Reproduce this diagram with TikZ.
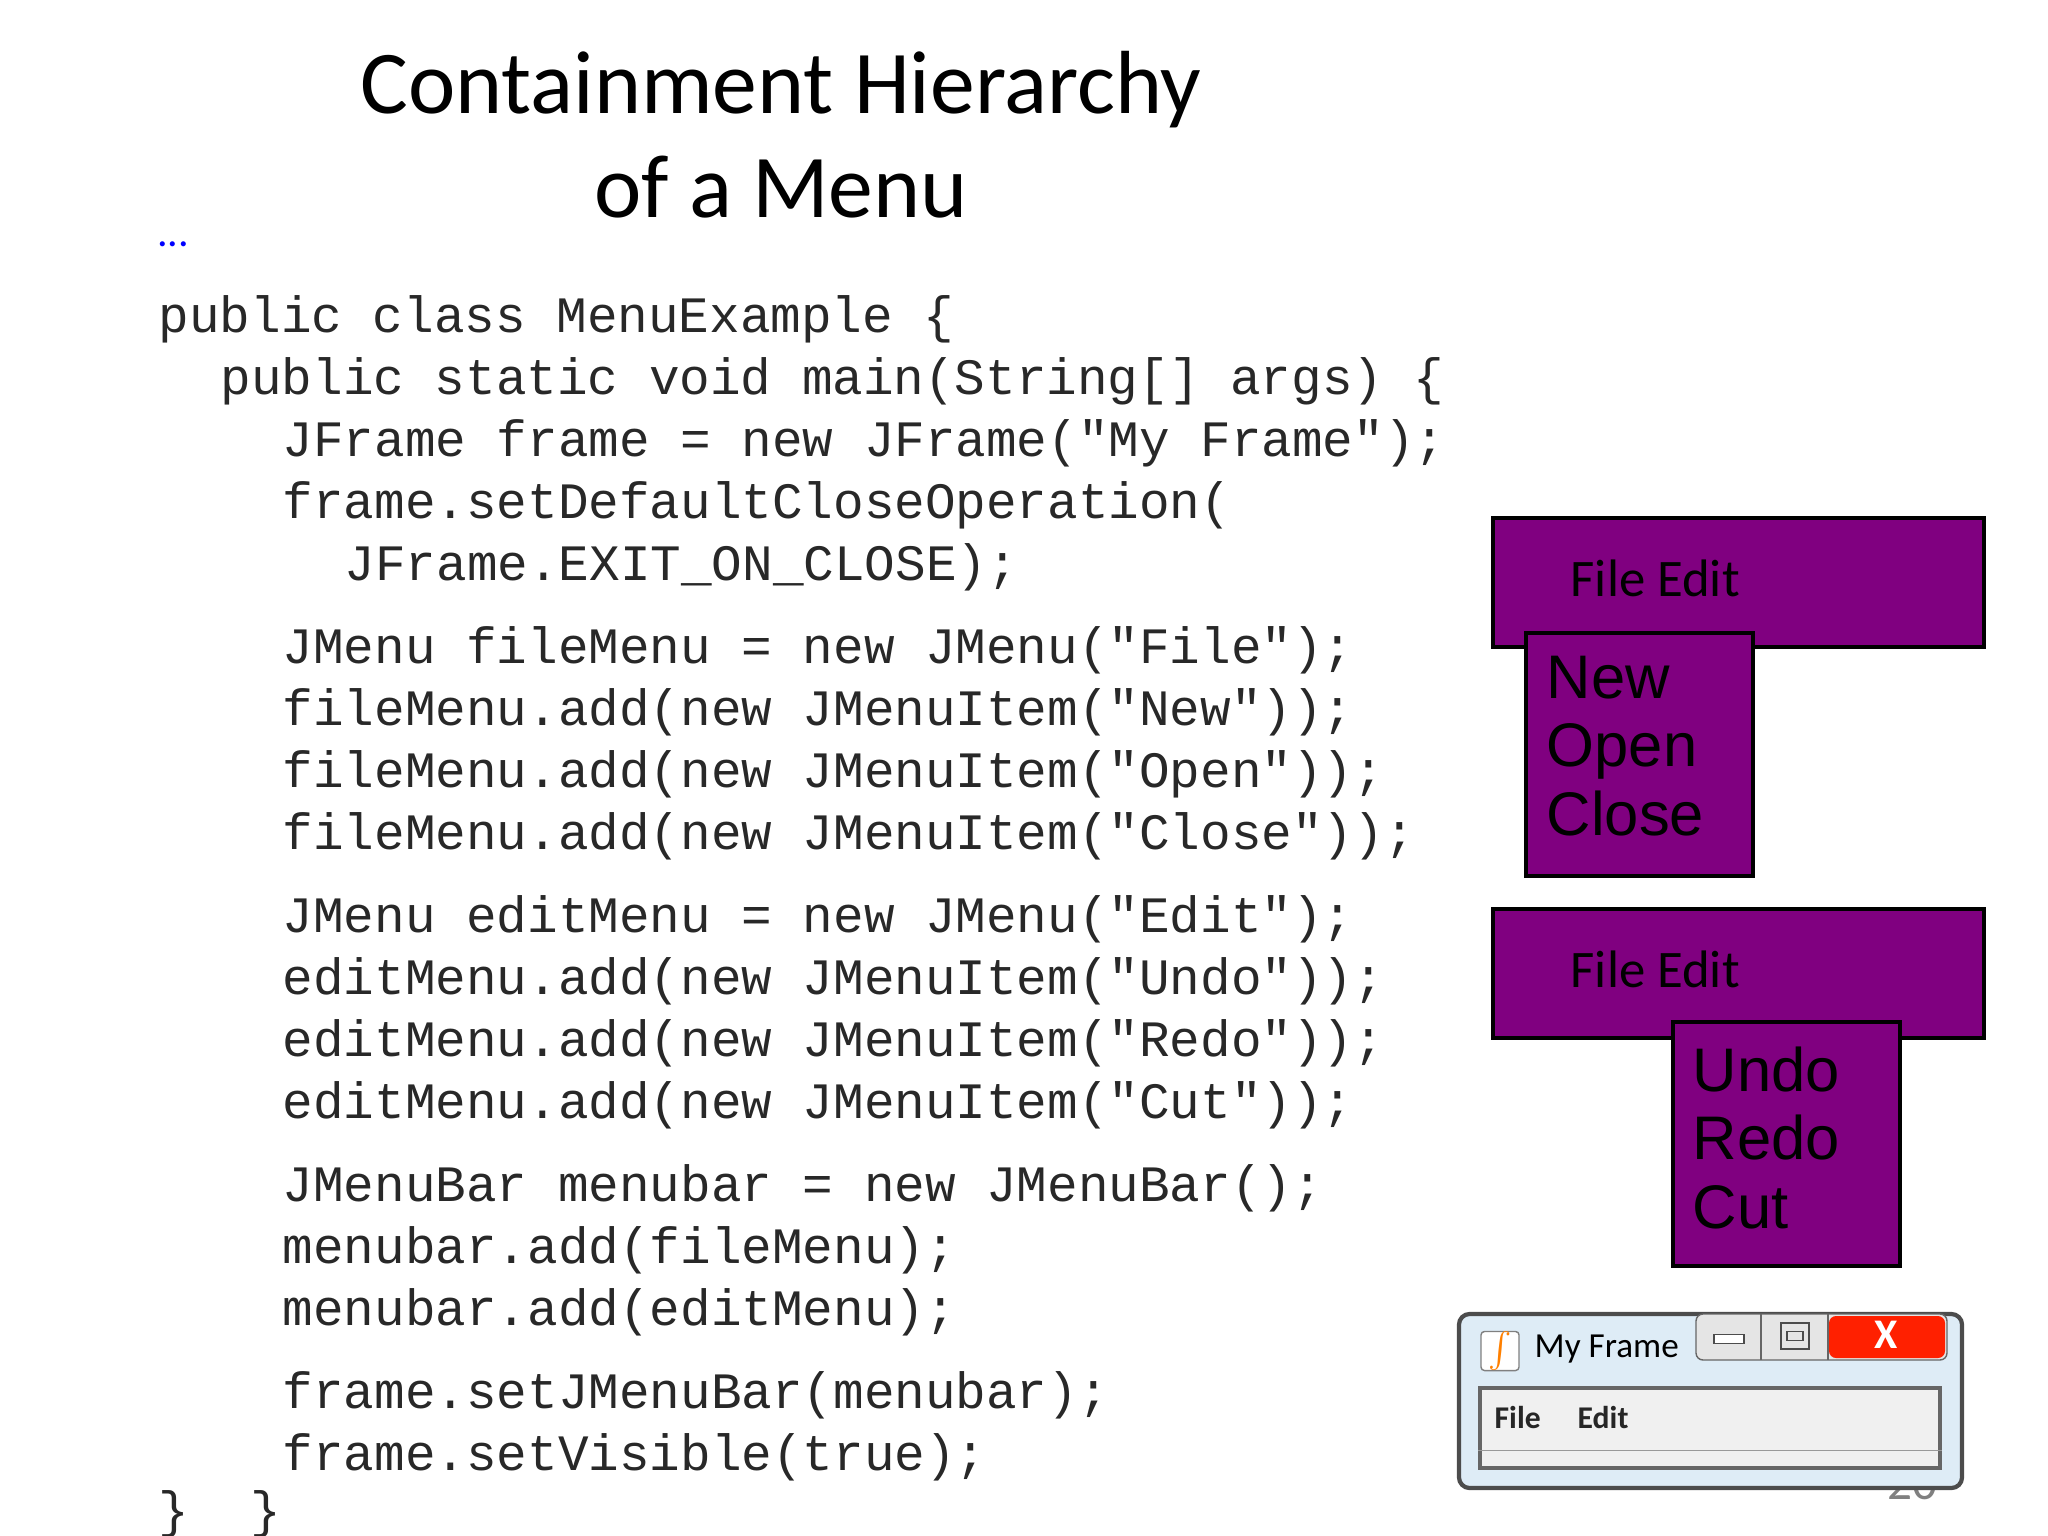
\documentclass[tikz,border=0pt]{standalone}
\usepackage{fontspec}
\usetikzlibrary{calc}
\setmainfont{Carlito}
\newfontfamily\codefont{Liberation Mono}
\newfontfamily\arialfont{Liberation Sans}
\definecolor{menupurple}{RGB}{128,0,128}
\definecolor{codegray}{RGB}{40,40,40}
\definecolor{winblue}{RGB}{222,236,246}
\definecolor{panelgray}{RGB}{240,240,240}
\begin{document}
\begin{tikzpicture}[x=0.01cm,y=-0.01cm,
  codeline/.style={anchor=west,inner sep=0,font=\codefont\fontsize{14.5}{16}\selectfont,text=codegray},
  menubox/.style={draw=black,line width=1pt,fill=menupurple,anchor=north west,inner sep=0},
  menutop/.style={anchor=west,inner sep=0,font=\fontsize{15}{18}\selectfont},
  menuitems/.style={anchor=north west,inner sep=0,align=left,font=\arialfont\fontsize{17.5}{19.5}\selectfont}]
\useasboundingbox (0,0) rectangle (2048,1536);
\node[font=\fontsize{25.5}{30}\selectfont] (t1) at (781,90) {Containment Hierarchy};
\node[font=\fontsize{25.5}{30}\selectfont] (t2) at (781,187) {of a Menu};
\node[text=blue,font=\fontsize{12}{14}\selectfont,inner sep=0] (dots) at (173,244) {...};
\foreach \ind/\yy/\txt [count=\i] in {
 0/319/{public class MenuExample \{},
 2/381/{public static void main(String[] args) \{},
 4/443/{JFrame frame = new JFrame("My Frame");},
 4/505/{frame.setDefaultCloseOperation(},
 6/567/{JFrame.EXIT\_ON\_CLOSE);},
 4/650/{JMenu fileMenu = new JMenu("File");},
 4/712/{fileMenu.add(new JMenuItem("New"));},
 4/774/{fileMenu.add(new JMenuItem("Open"));},
 4/836/{fileMenu.add(new JMenuItem("Close"));},
 4/919/{JMenu editMenu = new JMenu("Edit");},
 4/981/{editMenu.add(new JMenuItem("Undo"));},
 4/1043/{editMenu.add(new JMenuItem("Redo"));},
 4/1105/{editMenu.add(new JMenuItem("Cut"));},
 4/1188/{JMenuBar menubar = new JMenuBar();},
 4/1250/{menubar.add(fileMenu);},
 4/1312/{menubar.add(editMenu);},
 4/1395/{frame.setJMenuBar(menubar);},
 4/1457/{frame.setVisible(true);},
 0/1514/{\}\ \ \}}}
 {\node[codeline] (code\i) at ({158+\ind*31},\yy) {\obeyspaces\txt};}
% menus
\node[menubox,minimum width=4.91cm,minimum height=1.29cm] (bar1) at (1491,516) {};
\node[menutop] (bar1t) at (1570,578) {File Edit};
\node[menubox,minimum width=2.27cm,minimum height=2.43cm] (sub1) at (1524,631) {};
\node[menuitems] (sub1t) at (1546,655) {New\\Open\\Close};
\node[menubox,minimum width=4.91cm,minimum height=1.29cm] (bar2) at (1491,907) {};
\node[menutop] (bar2t) at (1570,969) {File Edit};
\node[menubox,minimum width=2.27cm,minimum height=2.44cm] (sub2) at (1671,1020) {};
\node[menuitems] (sub2t) at (1692,1046) {Undo\\Redo\\Cut};
% page number partly hidden
\node[text=gray,font=\fontsize{14}{16}\selectfont] (pg) at (1912,1484) {20};
% window
\draw[fill=winblue,draw=black!70,line width=1.2pt,rounded corners=3pt] (1459,1314) rectangle (1962,1488);
\node[draw=black!60,fill=panelgray,line width=1pt,minimum width=4.6cm,minimum height=0.8cm,anchor=north west,inner sep=0] (panel) at (1478,1386) {};
\draw[black!40] ($(panel.south west)+(0,-19)$) -- ($(panel.south east)+(0,-19)$);
\node[anchor=west,inner sep=0,font=\bfseries\fontsize{9}{11}\selectfont,text=black!85] (mfile) at (1494,1417) {File};
\node[anchor=west,inner sep=0,font=\bfseries\fontsize{9}{11}\selectfont,text=black!85] (medit) at (1577,1417) {Edit};
\node[draw=black!50,fill=white,minimum size=0.38cm,inner sep=0,rounded corners=1pt] (icon) at (1500,1351) {\fontsize{8}{8}\selectfont\color{orange}$\int$};
\node[anchor=west,inner sep=0,font=\fontsize{10}{12}\selectfont] (wtitle) at (1534,1349) {My Frame};
\draw[fill=black!10,draw=black!60,rounded corners=2pt] (1696,1314) rectangle (1947,1360);
\fill[red!75!orange,rounded corners=2pt] (1829,1316) rectangle (1945,1358);
\draw[black!60] (1761,1314) -- (1761,1360) (1828,1314) -- (1828,1360);
\node[draw=black!70,fill=white,minimum width=0.3cm,minimum height=0.09cm,inner sep=0] (minb) at (1729,1339) {};
\node[draw=black!70,minimum width=0.28cm,minimum height=0.26cm,inner sep=0] (maxb) at (1795,1336) {};
\node[draw=black!70,minimum width=0.16cm,minimum height=0.09cm,inner sep=0] (maxi) at (1795,1336) {};
\node[text=white,font=\bfseries\fontsize{12}{12}\selectfont] (xb) at (1886,1335) {X};
\end{tikzpicture}
\end{document}
